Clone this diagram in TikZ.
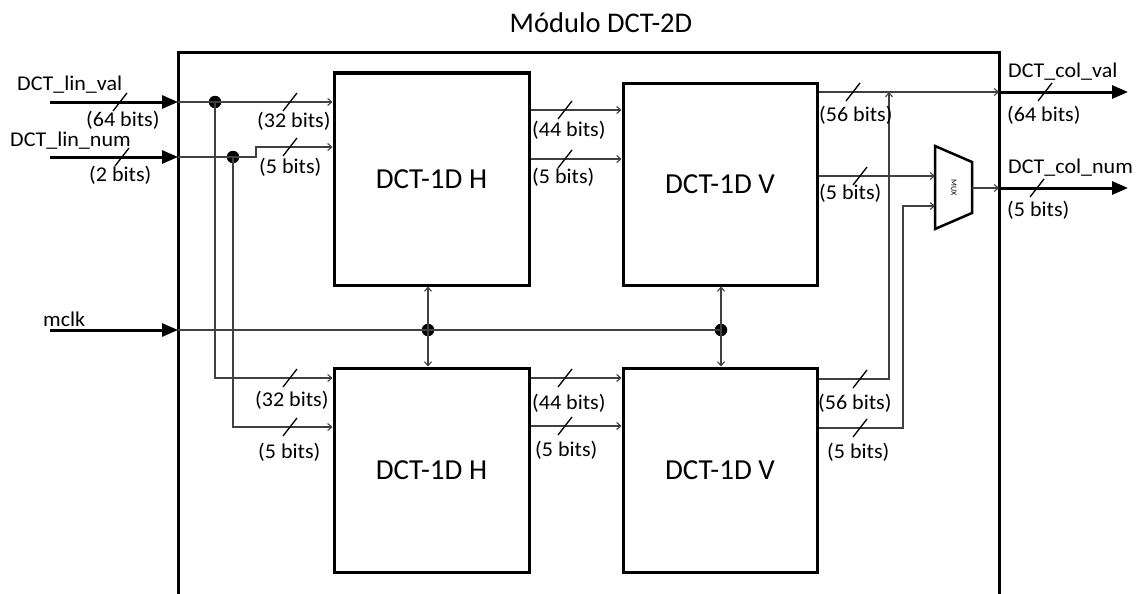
\documentclass[tikz,border=0pt]{standalone}
\usepackage{fontspec}
\setmainfont{Carlito}
\newfontfamily\lblfont{Carlito}[FakeStretch=1.05]
\usetikzlibrary{arrows.meta}
\begin{document}
\begin{tikzpicture}[x=1pt,y=-1pt,
 wire/.style={line width=1.1pt, draw=black!75},
 warrow/.style={wire,-{Straight Barb[length=4pt,width=7pt]}},
 bus/.style={line width=3pt,-{Triangle[length=16pt,width=13pt]}},
 blk/.style={draw,line width=3pt,minimum width=195pt,inner sep=0pt,font=\fontsize{29}{34}\selectfont},
 lbl/.style={anchor=west,inner sep=0pt,font=\lblfont\fontsize{21}{24}\selectfont},
 dot/.style={circle,fill,inner sep=0pt,minimum size=12.5pt},
 slash/.pic={\draw[line width=1.3pt] (-7,9) -- (7,-9);}
]
\useasboundingbox (0,0) rectangle (1140,594);
% title and outer module frame
\node[font=\fontsize{28.5}{32}\selectfont] (title) at (601,23) {Módulo DCT-2D};
\draw[line width=3pt] (178,600) -- (178,53) -- (999,53) -- (999,600);
% blocks
\node[blk,minimum height=212pt] (H1) at (431.5,179) {DCT-1D H};
\node[blk,minimum height=202pt,minimum width=194pt] (V1) at (720,184) {DCT-1D V};
\node[blk,minimum height=204pt] (H2) at (431.5,470) {DCT-1D H};
\node[blk,minimum height=204pt,minimum width=194pt] (V2) at (720,470) {DCT-1D V};
% mux
\coordinate (mi1) at (935,176);
\coordinate (mi2) at (935,206);
\coordinate (mo) at (972,188);
\draw[line width=2.5pt,line join=miter] (935,146) -- (972,162) -- (972,213) -- (935,229) -- cycle;
\node[rotate=-90,font=\fontsize{8}{8}\selectfont,inner sep=0pt] (mux) at (954,188) {MUX};
% junction dots
\node[dot] (j1) at (215,102) {};
\node[dot] (j2) at (233,157) {};
\node[dot] (cj1) at (428,330) {};
\node[dot] (cj2) at (721,330) {};
% inputs
\coordinate (lv0) at (50,102); \coordinate (lv1) at (178,102);
\coordinate (ln0) at (50,157); \coordinate (ln1) at (178,157);
\coordinate (ck0) at (50,330); \coordinate (ck1) at (178,330);
\draw[bus] (lv0) -- (lv1);
\draw[bus] (ln0) -- (ln1);
\draw[bus] (ck0) -- (ck1);
\draw[warrow] (lv1) -- (H1.west |- lv1);
\coordinate (jog) at (256,157);
\draw[warrow] (ln1) -- (jog) -- ++(0,-10) -- (H1.west |- 0,147);
\draw[warrow] (j1.center) |- (H2.west |- 0,378);
\draw[warrow] (j2.center) |- (H2.west |- 0,427);
% clock
\draw[wire] (ck1) -- (cj2.center);
\draw[warrow] (cj1.center) -- (cj1 |- H1.south);
\draw[warrow] (cj1.center) -- (cj1 |- H2.north);
\draw[warrow] (cj2.center) -- (cj2 |- V1.south);
\draw[warrow] (cj2.center) -- (cj2 |- V2.north);
% H -> V
\draw[warrow] (H1.east |- 0,110) -- (V1.west |- 0,110);
\draw[warrow] (H1.east |- 0,159) -- (V1.west |- 0,159);
\draw[warrow] (H2.east |- 0,378) -- (V2.west |- 0,378);
\draw[warrow] (H2.east |- 0,426) -- (V2.west |- 0,426);
% outputs
\coordinate (ov) at (999,92); \coordinate (ovend) at (1128,92);
\coordinate (on) at (999,188); \coordinate (onend) at (1128,188);
\coordinate (m56) at (889,92);
\coordinate (k) at (903,206);
\draw[warrow] (V1.east |- ov) -- (ov);
\draw[warrow] (V1.east |- 0,176) -- (mi1);
\draw[warrow] (mo) -- (on);
\draw[bus] (ov) -- (ovend);
\draw[bus] (on) -- (onend);
\draw[warrow] (V2.east |- 0,379) -| (m56);
\draw[warrow] (V2.east |- 0,428) -| (k) -- (mi2);
% bus slashes
\foreach \p in {(120,102),(122,157),(290,102),(290,147),(565,110),(565,159),(853,92),(860,176),(1045,92),(1037,188),(290,378),(290,427),(565,378),(565,426),(860,379),(860,428)}
  \pic at \p {slash};
% labels
\node[lbl] (l1) at (17,85) {DCT\_lin\_val};
\node[lbl] (l2) at (10,141) {DCT\_lin\_num};
\node[lbl] (l3) at (43,319) {mclk};
\node[lbl] (l4) at (1008,72) {DCT\_col\_val};
\node[lbl] (l5) at (1008,168) {DCT\_col\_num};
\node[lbl] (b1) at (86,120) {(64 bits)};
\node[lbl] (b2) at (89,175) {(2 bits)};
\node[lbl] (b3) at (257,121) {(32 bits)};
\node[lbl] (b4) at (259,167) {(5 bits)};
\node[lbl] (b5) at (532,130) {(44 bits)};
\node[lbl] (b6) at (532,177) {(5 bits)};
\node[lbl] (b7) at (819,115) {(56 bits)};
\node[lbl] (b8) at (819,193) {(5 bits)};
\node[lbl] (b9) at (1007,115) {(64 bits)};
\node[lbl] (b10) at (1007,210) {(5 bits)};
\node[lbl] (b11) at (255,400) {(32 bits)};
\node[lbl] (b12) at (258,452) {(5 bits)};
\node[lbl] (b13) at (532,403) {(44 bits)};
\node[lbl] (b14) at (535,450) {(5 bits)};
\node[lbl] (b15) at (818,403) {(56 bits)};
\node[lbl] (b16) at (827,452) {(5 bits)};
\end{tikzpicture}
\end{document}
